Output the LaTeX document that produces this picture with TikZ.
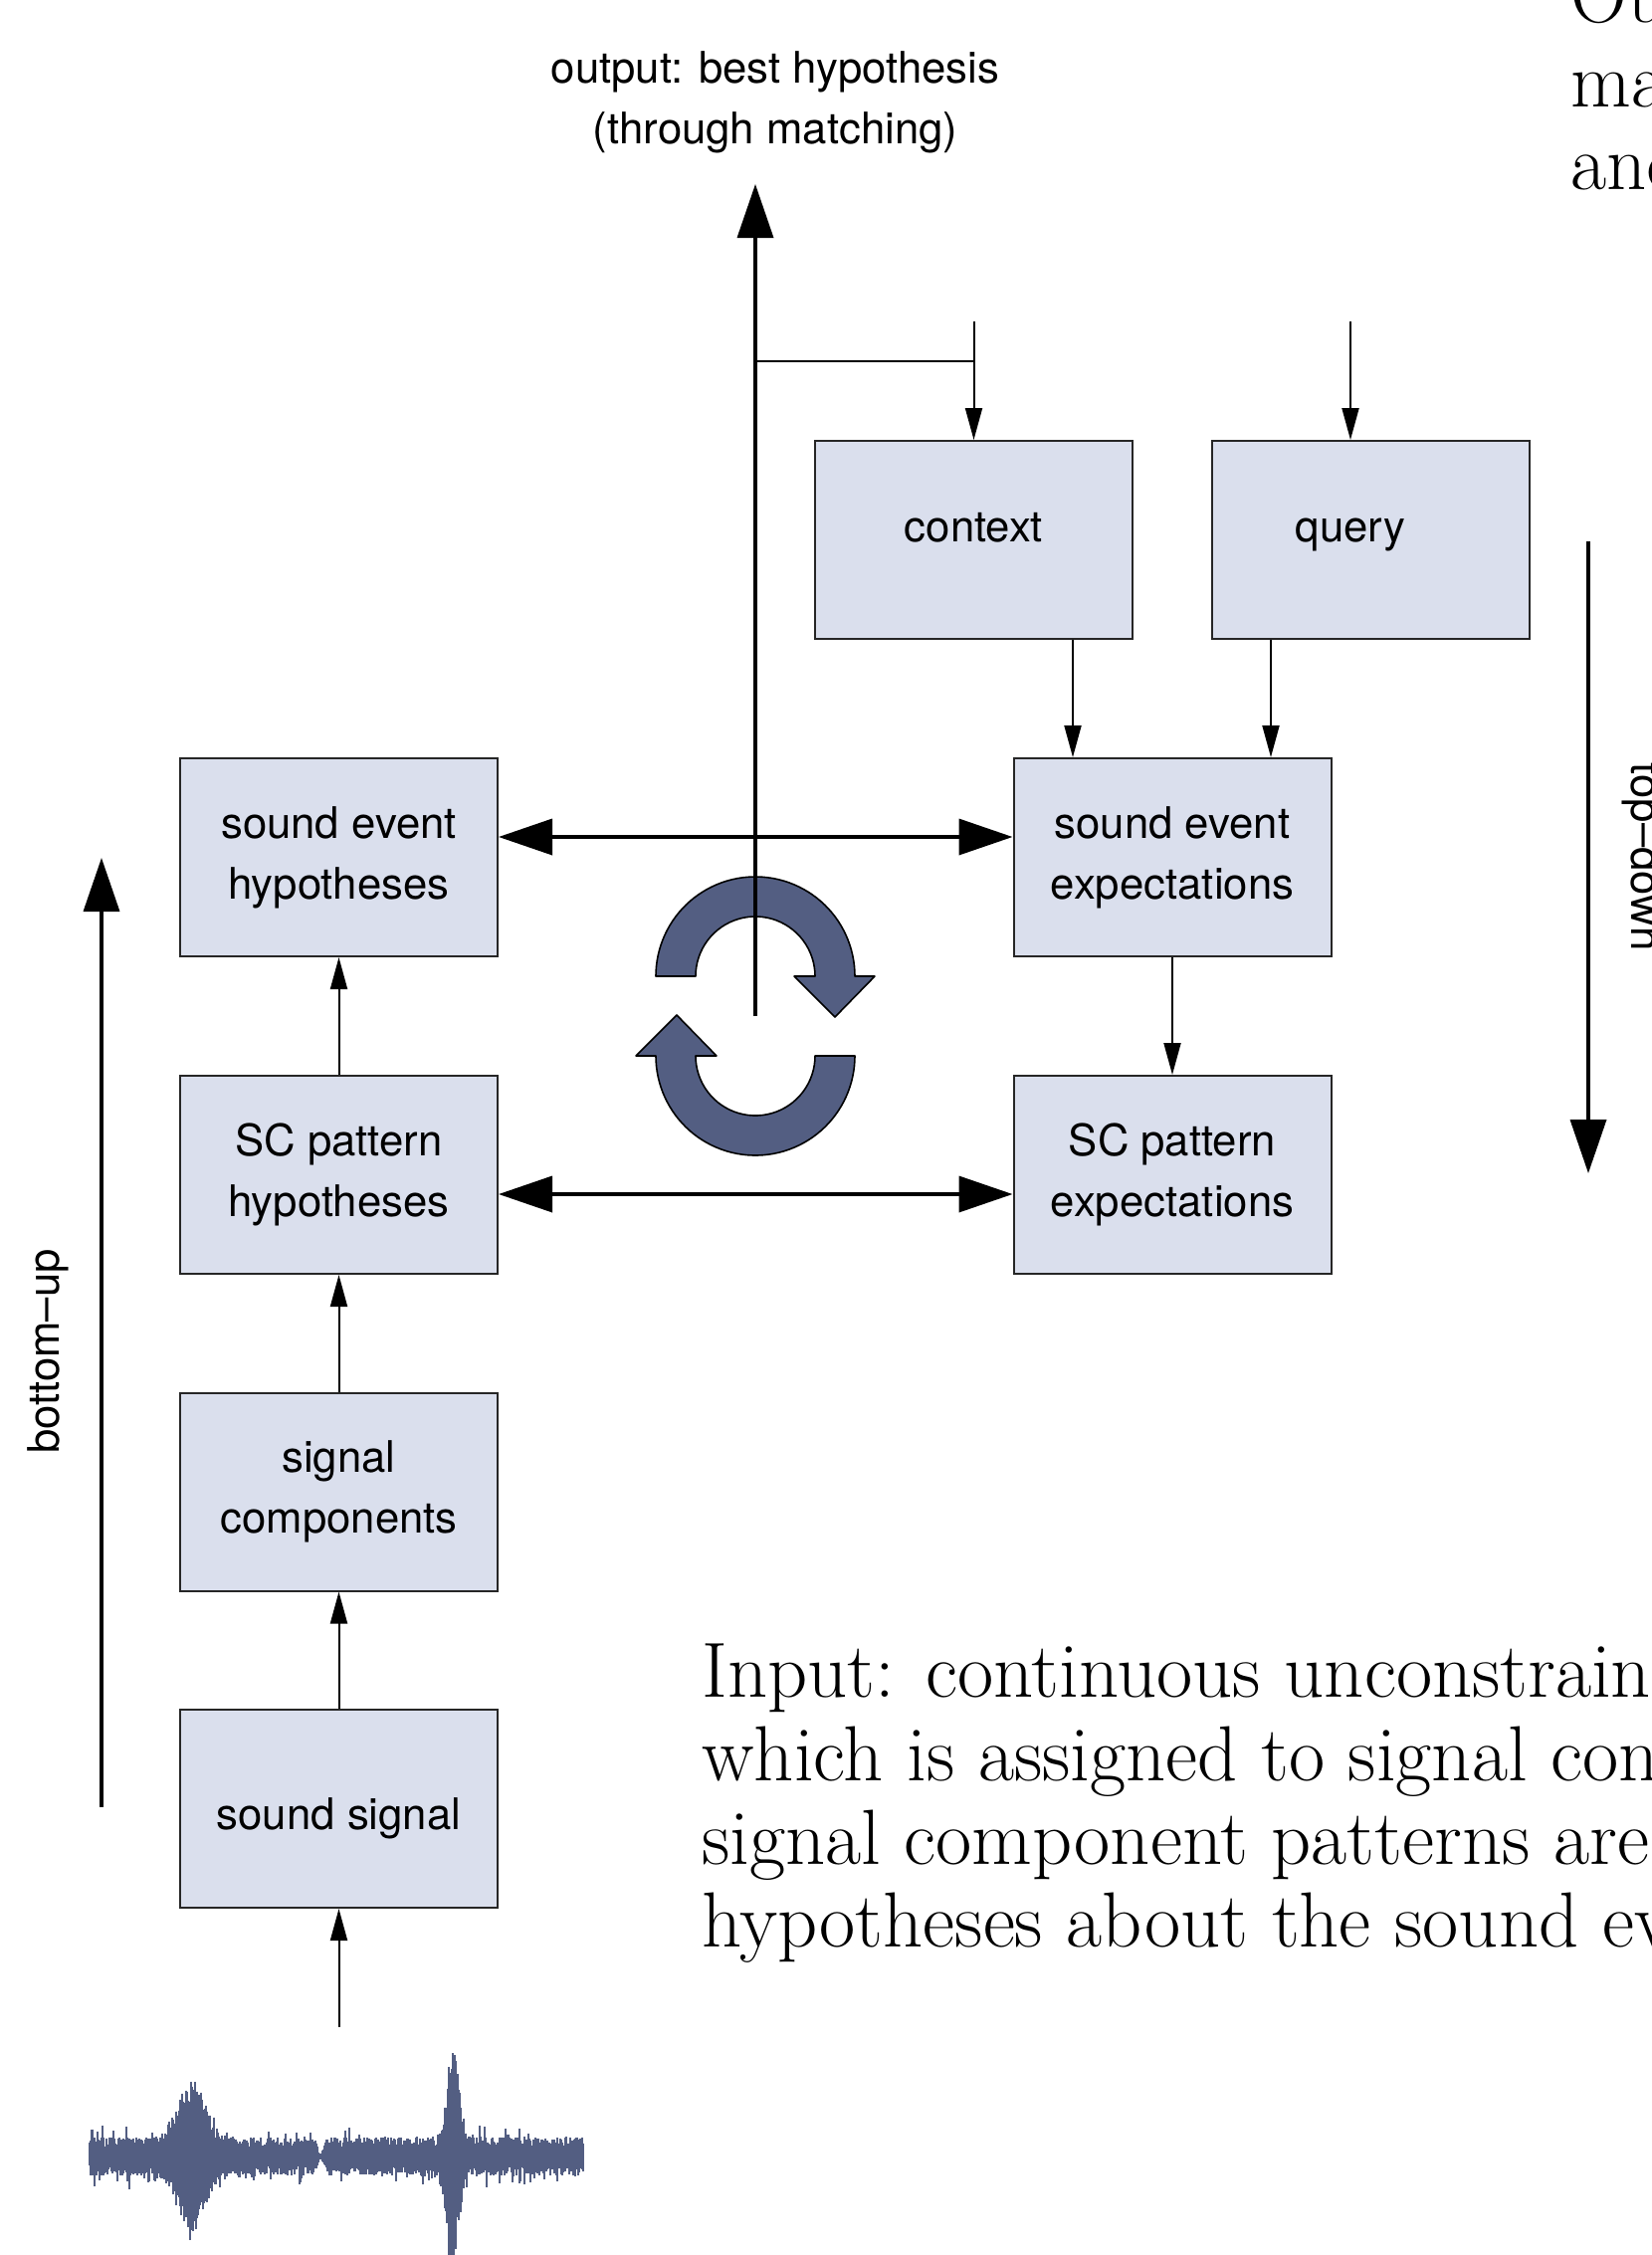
\documentclass[tikz,border=0pt]{standalone}
\usepackage{fontspec}
\newfontfamily\heros{TeX Gyre Heros}
\usetikzlibrary{arrows.meta}
\definecolor{boxfill}{RGB}{218,223,237}
\definecolor{wavecol}{RGB}{83,94,130}
\newcommand\boxfont{\heros\fontsize{21.85}{30.5}\selectfont}
\newcommand\serifbody{\fontsize{39.3}{42}\selectfont}
\begin{document}
\begin{tikzpicture}[x=0.5pt,y=-0.5pt,
  box/.style={draw=black!85, line width=1pt, fill=boxfill, minimum width=159.5pt, minimum height=99.5pt, inner sep=0pt, align=center, font=\boxfont},
  single/.style={text height=0.75em, text depth=0.25em},
  thinarr/.style={draw=black, line width=1pt, -{Triangle[length=16pt,width=8.5pt]}},
  thinline/.style={draw=black, line width=1pt},
  thickarr/.style={draw=black, line width=1.8pt, -{Triangle[length=27pt,width=18pt]}},
  dblarr/.style={draw=black, line width=1.8pt, {Triangle[length=27pt,width=18pt]}-{Triangle[length=27pt,width=18pt]}},
  lbl/.style={font=\boxfont, align=center, inner sep=0pt},
  serif/.style={font=\serifbody, inner sep=0pt, anchor=base west},
  cyc/.style={fill=wavecol, draw=black, line width=0.8pt, line join=round},
  wave/.style={draw=wavecol, line width=0.7pt},
]
\useasboundingbox (0,0) rectangle (1660,2266);

% waveform
\pgfmathsetseed{4711}
\foreach \i in {90,...,586}{
  \pgfmathsetmacro\fade{(1-0.85*exp(-min(((\i-322)/4)^2,9))) * min(1,(\i-86)/5) * min(1,(590-\i)/5)}
  \pgfmathsetmacro\bA{66*exp(-min(((\i-192)/19)^2,9))}
  \pgfmathsetmacro\bB{102*exp(-min(((\i-455)/8)^2,9))}
  \pgfmathsetmacro\ya{2167-\fade*(28*(0.35+0.35*rnd+0.5*(rnd>0.88)*rnd) + \bA*(0.45+0.55*rnd) + \bB*(0.6+0.4*rnd))}
  \pgfmathsetmacro\yb{2167+\fade*(28*(0.35+0.35*rnd+0.5*(rnd>0.88)*rnd) + \bA*(0.45+0.55*rnd) + \bB*(0.6+0.4*rnd))}
  \draw[wave] (\i,\ya) -- (\i,\yb);
}

% boxes
\node[box, single] (ctx) at (978.5,542.5) {\raisebox{1.5pt}{context}};
\node[box, single] (qry) at (1377.5,542.5) {\raisebox{1.5pt}{query}\hspace*{20.5pt}};
\node[box] (seh) at (340.5,861.5) {sound event\\hypotheses};
\node[box] (see) at (1178,861.5) {sound event\\expectations};
\node[box] (sch) at (340.5,1180.5) {SC pattern\\hypotheses};
\node[box] (sce) at (1178,1180.5) {SC pattern\\expectations};
\node[box] (sc) at (340.5,1499) {signal\\components};
\node[box, single] (ss) at (340.5,1817.5) {\raisebox{-7.75pt}{sound signal}};

% labels
\node[lbl] (outlbl) at (779,103) {output: best hypothesis\\(through matching)};
\node[lbl, rotate=90] (bulbl) at (48,1358) {bottom–up};
\node[lbl, rotate=-90] (tdlbl) at (1651,861) {top–down};

% serif text
\node[serif] (t1) at (705,1705) {Input: continuous unconstrain};
\node[serif] (t2) at (705,1789) {which is assigned to signal con};
\node[serif] (t3) at (705,1873) {signal component patterns are};
\node[serif] (t4) at (705,1956) {hypotheses about the sound ev};
\node[serif] (r1) at (1578,22) {Ou};
\node[serif] (r2) at (1578,107) {ma};
\node[serif] (r3) at (1578,190) {and};

% coordinates
\coordinate (outbot) at (759,1021);
\coordinate (outtip) at (759,185);
\coordinate (br) at (759,363);
\coordinate (ctxin) at (978.5,323);
\coordinate (qin) at (1357,323);
\coordinate (seeL) at ([xshift=-50pt]see.north);
\coordinate (seeR) at ([xshift=49.5pt]see.north);
\coordinate (wv) at (340.5,2037);
\coordinate (bu1) at (102,1816);
\coordinate (bu2) at (102,862);
\coordinate (td1) at (1596,544);
\coordinate (td2) at (1596,1179);

% connectors
\draw[thinline] (br) -- (br -| ctxin);
\draw[thinarr] (ctxin) -- (ctx.north);
\draw[thinarr] (qin) -- (qin |- qry.north);
\draw[thinarr] (ctx.south -| seeL) -- (seeL);
\draw[thinarr] (qry.south -| seeR) -- (seeR);
\draw[thinarr] (see.south) -- (sce.north);
\draw[thinarr] (sch.north) -- (seh.south);
\draw[thinarr] (sc.north) -- (sch.south);
\draw[thinarr] (ss.north) -- (sc.south);
\draw[thinarr] (wv) -- (ss.south);
\draw[dblarr] ([yshift=10.25pt]seh.east) -- ([yshift=10.25pt]see.west);
\draw[dblarr] ([yshift=-9.75pt]sch.east) -- ([yshift=-9.75pt]sce.west);
\draw[thickarr] (bu1) -- (bu2);
\draw[thickarr] (td1) -- (td2);

% cycle arrows
\draw[cyc] plot[domain=180:360,samples=60] ({759+100*cos(\x)},{981+100*sin(\x)}) -- (879,981) -- (839,1022) -- (798,981) -- plot[domain=360:180,samples=40] ({759+60*cos(\x)},{981+60*sin(\x)}) -- cycle;
\draw[cyc] plot[domain=0:180,samples=60] ({759+100*cos(\x)},{1061+100*sin(\x)}) -- (639,1061) -- (680,1020) -- (720,1061) -- plot[domain=180:0,samples=40] ({759+60*cos(\x)},{1061+60*sin(\x)}) -- cycle;

% output
\draw[thickarr] (outbot) -- (outtip);
\end{tikzpicture}
\end{document}
